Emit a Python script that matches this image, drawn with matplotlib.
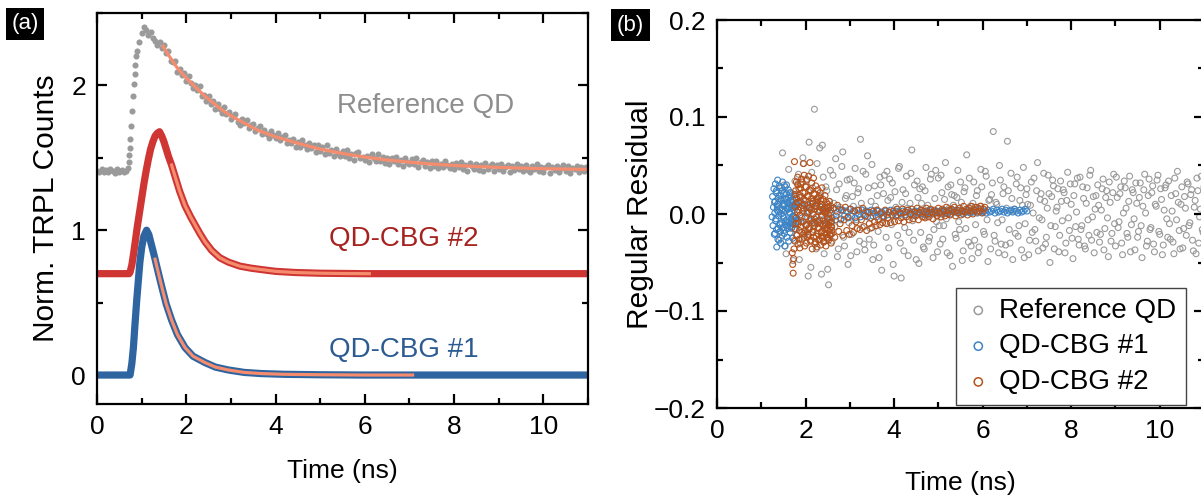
"""
TRPL 衰减曲线 + 拟合残差 (两栏图)
"""

import numpy as np
import matplotlib
matplotlib.use("Agg")
import matplotlib.pyplot as plt
from matplotlib.ticker import MultipleLocator

plt.rcParams["font.family"] = ["Liberation Sans", "DejaVu Sans"]
plt.rcParams["axes.unicode_minus"] = True

# ─────────────────────── 颜色 ───────────────────────
C_GRAY   = "#9a9a9a"
C_RED    = "#cf3533"
C_BLUE   = "#2e64a0"
C_FIT    = "#f58c6e"
C_RES_B  = "#3c84c6"
C_RES_O  = "#b4521c"
FS       = 19
FS_YLAB  = 21.5

# ─────────────────────── (a) 数据 ───────────────────────
# Reference QD (偏移 1.4)：基线 / 上升沿 / 衰减 (等间隔采样 0.05 ns)
ref_base_t0, ref_step = 0.00, 0.05
ref_base = [1.41, 1.40, 1.42, 1.405, 1.415, 1.40, 1.425, 1.41, 1.395, 1.42,
            1.405, 1.415, 1.40, 1.41]
ref_rise_t = [0.70, 0.71, 0.72, 0.73, 0.74, 0.76, 0.78, 0.80, 0.82, 0.84,
              0.86, 0.88, 0.90]
ref_rise = [1.43, 1.47, 1.52, 1.57, 1.63, 1.72, 1.82, 1.93, 2.01, 2.08,
            2.14, 2.20, 2.24]
ref_peak_t0 = 0.95
ref_decay = [
    2.30, 2.36, 2.40, 2.38, 2.35, 2.37, 2.33, 2.31, 2.28, 2.30, 2.26,
    2.28, 2.225, 2.24, 2.17, 2.165, 2.17, 2.09, 2.11, 2.07, 2.085,
    2.03, 2.065, 2.02, 1.98, 2.005, 1.965, 1.995, 1.925, 1.935, 1.89,
    1.93, 1.875, 1.89, 1.835, 1.875, 1.84, 1.81, 1.85, 1.80, 1.815,
    1.765, 1.792, 1.803, 1.75, 1.727, 1.77, 1.742, 1.76, 1.708, 1.73,
    1.733, 1.686, 1.705, 1.723, 1.662, 1.69, 1.664, 1.638, 1.682, 1.656,
    1.635, 1.67, 1.62, 1.645, 1.66, 1.60, 1.625, 1.605, 1.63, 1.575,
    1.61, 1.576, 1.622, 1.588, 1.559, 1.60, 1.566, 1.587, 1.538, 1.589,
    1.55, 1.577, 1.529, 1.591, 1.533, 1.555, 1.512, 1.564, 1.536, 1.513,
    1.55, 1.512, 1.555, 1.502, 1.525, 1.487, 1.53, 1.537, 1.50, 1.507,
    1.485, 1.513, 1.471, 1.524, 1.497, 1.48, 1.523, 1.481, 1.509, 1.462,
    1.50, 1.458, 1.502, 1.475, 1.508, 1.457, 1.485, 1.444, 1.497, 1.471,
    1.455, 1.489, 1.457, 1.496, 1.44, 1.469, 1.482, 1.441, 1.47, 1.428,
    1.477, 1.446, 1.48, 1.429, 1.458, 1.437, 1.481, 1.45, 1.429, 1.458,
    1.422, 1.461, 1.44, 1.469, 1.423, 1.453, 1.412, 1.461, 1.441, 1.425,
    1.46, 1.419, 1.448, 1.408, 1.462, 1.426, 1.441, 1.455, 1.41, 1.449,
    1.424, 1.458, 1.408, 1.437, 1.452, 1.401, 1.441, 1.415, 1.46, 1.424,
    1.444, 1.408, 1.453, 1.417, 1.402, 1.446, 1.426, 1.456, 1.41, 1.435,
    1.405, 1.434, 1.449, 1.394, 1.438, 1.413, 1.443, 1.402, 1.427, 1.447,
    1.407, 1.441, 1.396, 1.431, 1.421, 1.445, 1.40, 1.435, 1.41, 1.44,
    1.425,
]
ref_fit_t = [1.48, 1.6, 1.8, 2.0, 2.2, 2.4, 2.6, 2.8, 3.0, 3.3, 3.6, 4.0, 4.5,
             5.0, 5.5, 6.0, 6.5, 7.0, 7.5, 8.0, 8.5, 9.0, 9.5, 10.0, 10.5, 11.0]
ref_fit = [2.27, 2.21, 2.12, 2.05, 1.99, 1.93, 1.88, 1.83, 1.79, 1.74, 1.69,
           1.645, 1.60, 1.56, 1.53, 1.505, 1.485, 1.47, 1.457, 1.447, 1.44,
           1.434, 1.429, 1.425, 1.422, 1.42]

# QD-CBG #2 (偏移 0.7)
cbg2_t = [0.0, 0.2, 0.4, 0.6, 0.72, 0.74, 0.78, 0.82, 0.86, 0.90, 0.95, 1.00,
          1.05, 1.10, 1.15, 1.20, 1.25, 1.30, 1.35, 1.40, 1.45, 1.50, 1.55,
          1.60, 1.67, 1.75, 1.85, 1.97, 2.10, 2.20, 2.30, 2.42, 2.57, 2.75,
          2.94, 3.2, 3.45, 3.69, 4.0, 4.44, 5.0, 6.0, 7.0, 8.0, 9.0, 10.0, 11.0]
cbg2 = [0.70, 0.70, 0.70, 0.70, 0.70, 0.71, 0.76, 0.84, 0.93, 1.02, 1.12, 1.22,
        1.32, 1.41, 1.49, 1.56, 1.61, 1.65, 1.67, 1.68, 1.65, 1.61, 1.56,
        1.51, 1.45, 1.37, 1.27, 1.17, 1.09, 1.035, 0.98, 0.92, 0.86, 0.81,
        0.78, 0.752, 0.738, 0.728, 0.716, 0.708, 0.703, 0.700, 0.70, 0.70,
        0.70, 0.70, 0.70]
cbg2_fit_t = [1.67, 1.75, 1.85, 1.97, 2.10, 2.20, 2.30, 2.42, 2.57, 2.75, 2.94,
              3.2, 3.45, 3.69, 4.0, 4.44, 5.0, 5.5, 6.1]
cbg2_fit = [1.45, 1.37, 1.27, 1.17, 1.09, 1.035, 0.98, 0.92, 0.86, 0.81, 0.78,
            0.752, 0.738, 0.728, 0.716, 0.708, 0.703, 0.701, 0.70]

# QD-CBG #1 (无偏移)
cbg1_t = [0.0, 0.2, 0.4, 0.6, 0.74, 0.78, 0.815, 0.85, 0.89, 0.93, 0.96, 1.00,
          1.05, 1.11, 1.16, 1.21, 1.26, 1.30, 1.37, 1.45, 1.55, 1.67, 1.80,
          1.97, 2.15, 2.42, 2.65, 2.94, 3.3, 3.69, 4.2, 5.0, 6.0, 7.0, 8.0,
          9.0, 10.0, 11.0]
cbg1 = [0.0, 0.0, 0.0, 0.0, 0.0, 0.08, 0.19, 0.35, 0.52, 0.67, 0.78, 0.88,
        0.96, 1.00, 0.97, 0.91, 0.85, 0.80, 0.71, 0.61, 0.49, 0.38, 0.28,
        0.19, 0.13, 0.086, 0.055, 0.035, 0.018, 0.010, 0.005, 0.002, 0.0,
        0.0, 0.0, 0.0, 0.0, 0.0]
cbg1_fit_t = [1.30, 1.37, 1.45, 1.55, 1.67, 1.80, 1.97, 2.15, 2.42, 2.65, 2.94,
              3.3, 3.69, 4.2, 5.0, 6.0, 7.07]
cbg1_fit = [0.80, 0.71, 0.61, 0.49, 0.38, 0.28, 0.19, 0.13, 0.086, 0.055,
            0.035, 0.018, 0.010, 0.005, 0.002, 0.0, 0.0]

# ─────────────────────── (b) 残差 ───────────────────────
# Reference QD：两组交错采样 (0.04 ns 间隔，错开 0.02 ns)
res_ref_t0, res_ref_step = 1.40, 0.04
res_ref = [
    0.012, -0.025, 0.063, 0.030, -0.041, 0.005, 0.022, -0.015, -0.048, 0.034,
    -0.008, 0.041, -0.030, 0.018, 0.052, -0.019, 0.003, 0.074, -0.055, 0.027,
    0.108, -0.036, 0.015, 0.068, -0.062, 0.038, -0.012, 0.024, -0.073, 0.045,
    -0.028, 0.011, 0.057, -0.044, 0.031, -0.006, 0.064, -0.033, 0.019, -0.052,
    0.036, -0.021, 0.008, 0.047, -0.039, 0.026, 0.077, -0.014, -0.031, 0.041,
    0.060, -0.026, 0.013, -0.047, 0.029, 0.004, -0.018, 0.038, -0.058, 0.021,
    -0.009, 0.044, -0.035, 0.017, 0.032, -0.064, 0.007, -0.022, 0.049, -0.066,
    0.025, -0.014, 0.039, -0.043, 0.011, 0.066, -0.027, 0.003, 0.034, -0.051,
    -0.019, 0.028, -0.036, 0.048, 0.009, -0.024, 0.041, -0.045, 0.016, -0.008,
    0.037, -0.031, 0.022, -0.012, 0.053, -0.040, 0.006, 0.030, -0.054, 0.019,
    -0.025, 0.045, -0.016, 0.012, -0.038, 0.027, 0.061, -0.029, 0.008, -0.046,
    0.033, -0.011, 0.024, -0.034, 0.046, 0.002, -0.021, 0.039, -0.049, 0.015,
    0.020, 0.085, -0.028, 0.010, -0.040, 0.035, -0.006, 0.028, -0.032, 0.075,
    -0.016, 0.042, -0.047, 0.005, 0.031, -0.023, 0.014, -0.037, 0.048, -0.010,
    0.026, -0.042, 0.009, -0.019, 0.037, -0.028, 0.053, -0.004, 0.021, -0.035,
    0.013, -0.024, 0.040, -0.050, 0.018, 0.029, -0.013, 0.007, -0.039, 0.034,
    -0.007, 0.022, -0.030, 0.043, -0.017, 0.010, -0.046, 0.031, 0.002, -0.026,
    0.038, -0.012, 0.016, -0.036, 0.027, -0.022, 0.045, -0.003, -0.040, 0.019,
    0.030, -0.029, 0.004, 0.036, -0.015, 0.024, -0.044, 0.012, -0.020, 0.041,
    -0.033, 0.017, -0.008, 0.028, -0.042, 0.034, 0.006, -0.024, 0.039, -0.011,
    0.022, -0.037, 0.011, -0.018, 0.032, -0.045, 0.025, 0.001, -0.028, 0.036,
    -0.014, 0.029, -0.039, 0.008, 0.040, -0.021, 0.015, -0.032, 0.027, -0.005,
    0.034, -0.026, 0.003, -0.041, 0.021, 0.044, -0.017, 0.010, -0.035, 0.018,
    -0.022, 0.031, -0.009, 0.025, -0.038, 0.014, 0.037, -0.030, 0.005, -0.016,
    0.028, -0.019, 0.012, -0.034, 0.022, 0.000, -0.027, 0.035, -0.008, 0.016,
]
res_ref2_t0 = 1.42
res_ref2 = [
    -0.018, 0.027, 0.004, -0.033, 0.015, 0.046, -0.010, 0.021, -0.027, 0.009,
    0.031, -0.047, 0.012, 0.058, -0.022, 0.036, -0.064, 0.006, 0.043, -0.016,
    -0.029, 0.052, -0.008, 0.019, 0.071, -0.041, 0.028, -0.057, 0.013, -0.021,
    0.040, -0.013, 0.025, -0.036, 0.007, 0.049, -0.024, 0.016, 0.035, -0.009,
    -0.043, 0.018, 0.032, -0.006, 0.022, -0.028, 0.011, 0.044, -0.037, 0.003,
    0.027, -0.015, 0.051, -0.032, 0.008, 0.019, -0.045, 0.030, -0.004, 0.040,
    -0.024, 0.014, 0.036, -0.011, -0.052, 0.023, 0.005, 0.047, -0.030, 0.012,
    -0.038, 0.021, 0.006, -0.019, 0.042, -0.007, 0.030, -0.047, 0.017, 0.026,
    0.011, -0.034, 0.024, -0.003, -0.028, 0.036, 0.002, -0.016, 0.045, -0.039,
    -0.012, 0.040, -0.026, 0.015, -0.005, 0.028, -0.043, 0.020, 0.009, -0.021,
    0.017, -0.008, 0.033, -0.048, 0.023, -0.015, 0.004, 0.037, -0.033, 0.011,
    -0.027, 0.019, -0.040, 0.008, 0.028, -0.018, 0.044, -0.006, 0.014, -0.036,
    0.032, -0.022, 0.012, -0.009, 0.050, -0.031, 0.021, -0.042, 0.006, 0.024,
    -0.030, 0.016, 0.003, -0.020, 0.038, -0.012, 0.027, 0.009, -0.045, 0.020,
    0.010, -0.027, 0.033, 0.001, -0.016, 0.024, -0.038, 0.015, -0.006, 0.042,
    -0.031, 0.006, 0.021, -0.012, 0.035, -0.036, 0.003, 0.026, -0.022, 0.013,
    0.025, -0.040, 0.014, -0.004, 0.031, -0.025, 0.019, -0.013, 0.037, -0.032,
    -0.016, 0.028, -0.033, 0.011, -0.006, 0.040, -0.027, 0.018, 0.005, -0.019,
    0.009, -0.021, 0.026, -0.037, 0.017, -0.004, 0.033, -0.028, 0.022, -0.010,
    0.038, -0.014, 0.021, -0.030, 0.001, 0.027, -0.020, 0.013, -0.039, 0.025,
    -0.005, 0.032, -0.024, 0.017, -0.012, 0.008, 0.041, -0.033, 0.019, -0.016,
    0.022, -0.031, 0.010, 0.035, -0.018, 0.026, -0.042, 0.004, 0.030, -0.024,
    -0.010, 0.019, -0.029, 0.037, -0.006, 0.012, -0.036, 0.028, -0.015, 0.006,
    0.033, -0.012, 0.020, -0.027, 0.007, -0.041, 0.024, -0.003, 0.039, -0.019,
    -0.028, 0.015, 0.030, -0.014, 0.004, -0.032, 0.021, 0.009, -0.020, 0.027,
]

# QD-CBG #1：前段 0.01 ns 采样 (两组)，后段 0.04 ns
res_c1a_t0, res_c1a_step = 1.30, 0.01
res_c1a = [
    0.012, -0.020, 0.031, -0.005, 0.024, -0.034, 0.008, 0.035, -0.015, 0.002,
    -0.027, 0.019, 0.027, -0.010, -0.030, 0.015, 0.004, -0.022, 0.033, -0.002,
    0.021, -0.017, 0.010, -0.033, 0.028, -0.008, 0.016, 0.030, -0.024, 0.006,
    -0.012, 0.025, -0.028, 0.013, 0.001, -0.019, 0.022, -0.006, 0.018, -0.014,
    0.009, -0.025, 0.014, -0.003, 0.020, -0.011, 0.007, -0.016, 0.011, -0.004,
]
res_c1a2_t0 = 1.245
res_c1a2 = [
    -0.003, 0.018, -0.012, 0.007, 0.026, -0.021, 0.001, 0.013, -0.007, 0.022,
    -0.016, 0.004, 0.010, -0.026, 0.016, -0.002, 0.029, -0.011, 0.006, -0.018,
    0.019, 0.000, -0.009, 0.024, -0.014, 0.011, -0.004, 0.008, -0.020, 0.015,
    0.003, -0.011, 0.021, -0.006, 0.012, -0.015, 0.005, 0.017, -0.008, 0.002,
    -0.013, 0.009, 0.014, -0.005, 0.006, -0.010, 0.012, -0.002, 0.007, -0.007,
    0.004, -0.003,
]
res_c1b_t0, res_c1b_step = 1.80, 0.04
res_c1b = [
    0.010, -0.008, 0.013, -0.004, 0.006, -0.011, 0.009, 0.002, -0.007, 0.011,
    -0.005, 0.008, -0.009, 0.004, 0.007, -0.006, 0.003, -0.008, 0.006, 0.001,
    -0.004, 0.006, -0.006, 0.002, 0.005, -0.005, 0.004, -0.002, 0.003, -0.004,
    0.005, -0.002, 0.003, -0.004, 0.004, 0.000, -0.003, 0.004, -0.001, 0.003,
    -0.003, 0.002, 0.004, -0.002, 0.001, -0.003, 0.003, 0.000, 0.002, -0.002,
    0.003, -0.001, 0.002, 0.004, -0.002, 0.001, 0.003, -0.001, 0.002, 0.000,
    0.003, -0.001, 0.002, 0.004, 0.000, 0.002, -0.001, 0.003, 0.001, 0.002,
    0.004, 0.000, 0.002, -0.001, 0.003, 0.001, 0.004, 0.000, 0.002, 0.003,
    0.001, 0.003, 0.000, 0.004, 0.002, 0.001, 0.003, 0.000, 0.004, 0.002,
    0.003, 0.001, 0.004, 0.002, 0.000, 0.003, 0.002, 0.004, 0.001, 0.003,
    0.002, 0.004, 0.001, 0.003, 0.005, 0.002, 0.003, 0.001, 0.004, 0.002,
    0.003, 0.005, 0.001, 0.004, 0.002, 0.003, 0.005, 0.002, 0.004, 0.001,
    0.003, 0.004, 0.002, 0.005, 0.003, 0.001, 0.004, 0.002, 0.003, 0.005,
    0.003,
]

# QD-CBG #2：前段 0.01 ns (两组)，后段 0.03 ns
res_c2a_t0, res_c2a_step = 1.70, 0.01
res_c2a = [
    -0.040, -0.052, -0.061, -0.046, -0.036, 0.054, -0.028, 0.020, -0.010, 0.033,
    -0.022, 0.012, 0.038, -0.031, 0.004, 0.026, -0.017, -0.035, 0.017, 0.031,
    -0.008, 0.036, -0.026, 0.009, 0.022, 0.052, -0.020, 0.040, -0.033, 0.014,
    0.028, -0.012, -0.030, 0.035, 0.001, -0.024, 0.019, 0.039, -0.016, 0.006,
    0.053, -0.028, 0.024, -0.005, 0.032, -0.036, 0.013, -0.019, 0.037, -0.009,
    0.021, -0.031, 0.008, 0.029, -0.023, 0.016, -0.034, 0.003, 0.025, -0.014,
    -0.027, 0.018, -0.006, 0.022, -0.032, 0.010, -0.018, 0.027, -0.025, 0.005,
    0.015, -0.029, 0.002, -0.020, 0.019, -0.011, -0.033, 0.012, -0.024, 0.007,
    -0.016, 0.010, -0.027, -0.004, 0.013, -0.021, -0.009, 0.008, -0.030, -0.013,
]
res_c2a2_t0 = 1.755
res_c2a2 = [
    0.008, -0.015, 0.024, -0.004, 0.016, -0.022, 0.002, 0.030, -0.010, 0.012,
    -0.026, 0.019, -0.001, 0.027, -0.013, 0.006, -0.019, 0.033, 0.003, -0.008,
    0.015, -0.024, 0.010, 0.022, -0.017, -0.003, 0.028, -0.011, 0.001, 0.018,
    -0.021, 0.007, -0.014, 0.025, -0.006, 0.011, -0.027, 0.004, 0.016, -0.009,
    -0.018, 0.013, 0.000, -0.024, 0.020, -0.012, 0.005, -0.029, 0.009, -0.003,
    0.012, -0.020, -0.007, 0.017, -0.015, 0.002, -0.026, 0.008, -0.010, 0.014,
    -0.019, -0.002, 0.010, -0.023, 0.004, -0.012, -0.028, 0.006, -0.016, 0.001,
    -0.009, -0.021, 0.003, -0.014, -0.005, -0.025, 0.000, -0.011, -0.018, -0.006,
    -0.022, 0.004, -0.013, -0.008, -0.017,
]
res_c2b_t0, res_c2b_step = 2.60, 0.03
res_c2b = [
    -0.020, 0.006, -0.024, -0.002, 0.009, -0.018, -0.010, 0.004, -0.022, -0.006,
    0.007, -0.017, -0.003, -0.021, 0.005, -0.012, -0.019, 0.003, -0.008, -0.015,
    0.004, -0.016, -0.006, 0.006, -0.013, -0.002, -0.017, 0.002, -0.010, -0.004,
    -0.014, 0.003, -0.008, -0.012, 0.004, -0.006, -0.011, 0.001, -0.009, -0.003,
    0.004, -0.010, -0.004, 0.002, -0.009, -0.001, 0.003, -0.008, -0.002, 0.005,
    -0.007, 0.001, -0.004, 0.005, -0.008, 0.002, -0.003, 0.004, -0.006, 0.000,
    0.005, -0.005, 0.002, -0.002, 0.006, -0.006, 0.001, 0.004, -0.003, 0.003,
    -0.004, 0.006, 0.000, -0.003, 0.005, 0.002, -0.005, 0.004, 0.001, -0.002,
    0.006, 0.001, -0.003, 0.005, 0.003, -0.002, 0.007, 0.000, 0.004, -0.001,
    0.005, 0.002, 0.007, -0.002, 0.004, 0.001, 0.006, -0.001, 0.003, 0.008,
    0.002, 0.005, -0.001, 0.006, 0.003, 0.008, 0.000, 0.004, 0.007, 0.002,
    0.006, 0.003, 0.008, 0.001, 0.005, 0.007,
]


def grid(t0, step, vals):
    """等间隔采样的时间轴"""
    return t0 + step * np.arange(len(vals))


def style_axis(ax):
    for s in ax.spines.values():
        s.set_linewidth(1.6)
    ax.tick_params(which="both", direction="in", top=True, right=True,
                   labelsize=FS, width=1.6, pad=8)
    ax.tick_params(which="major", length=7)
    ax.tick_params(which="minor", length=4)


fig = plt.figure(figsize=(12.01, 5.0), dpi=100)

# ─────────────────────── (a) ───────────────────────
ax1 = fig.add_axes([0.0808, 0.192, 0.4088, 0.782])
dot = dict(ls="none", marker="o", ms=4.4, color=C_GRAY, mec="none")
ax1.plot(grid(ref_base_t0, ref_step, ref_base), ref_base, **dot)
ax1.plot(ref_rise_t, ref_rise, **dot)
ax1.plot(grid(ref_peak_t0, ref_step, ref_decay), ref_decay, **dot)
ax1.plot(ref_fit_t, ref_fit, color=C_FIT, lw=2.3)

ax1.plot(cbg2_t, cbg2, color=C_RED, lw=5.2, solid_joinstyle="round")
ax1.plot(cbg2_fit_t, cbg2_fit, color=C_FIT, lw=2.3)
ax1.plot(cbg1_t, cbg1, color=C_BLUE, lw=5.2, solid_joinstyle="round")
ax1.plot(cbg1_fit_t, cbg1_fit, color=C_FIT, lw=2.3)

ax1.text(7.35, 1.86, "Reference QD", color="#8e8e8e", fontsize=20,
         ha="center", va="center")
ax1.text(6.88, 0.94, "QD-CBG #2", color="#a5221e", fontsize=20,
         ha="center", va="center")
ax1.text(6.88, 0.17, "QD-CBG #1", color="#2c5b92", fontsize=20,
         ha="center", va="center")

ax1.set_xlim(0, 11)
ax1.set_ylim(-0.2, 2.5)
ax1.xaxis.set_major_locator(MultipleLocator(2))
ax1.xaxis.set_minor_locator(MultipleLocator(1))
ax1.yaxis.set_major_locator(MultipleLocator(1))
ax1.yaxis.set_minor_locator(MultipleLocator(0.5))
ax1.set_xlabel("Time (ns)", fontsize=FS, labelpad=14)
ax1.set_ylabel("Norm. TRPL Counts", fontsize=FS_YLAB, labelpad=8)
style_axis(ax1)

# ─────────────────────── (b) ───────────────────────
ax2 = fig.add_axes([0.597, 0.184, 0.4055, 0.776])
kw = dict(s=18, facecolors="none", linewidths=0.8)
ref_t = np.concatenate([grid(res_ref_t0, res_ref_step, res_ref),
                        grid(res_ref2_t0, res_ref_step, res_ref2)])
c1_t = np.concatenate([grid(res_c1a_t0, res_c1a_step, res_c1a),
                       grid(res_c1a2_t0, res_c1a_step, res_c1a2),
                       grid(res_c1b_t0, res_c1b_step, res_c1b)])
c2_t = np.concatenate([grid(res_c2a_t0, res_c2a_step, res_c2a),
                       grid(res_c2a2_t0, res_c2a_step, res_c2a2),
                       grid(res_c2b_t0, res_c2b_step, res_c2b)])
ax2.scatter(ref_t, res_ref + res_ref2, edgecolors=C_GRAY,
            label="Reference QD", **kw)
ax2.scatter(c1_t, res_c1a + res_c1a2 + res_c1b, edgecolors=C_RES_B,
            label="QD-CBG #1", **kw)
ax2.scatter(c2_t, res_c2a + res_c2a2 + res_c2b, edgecolors=C_RES_O,
            label="QD-CBG #2", **kw)

ax2.set_xlim(0, 11)
ax2.set_ylim(-0.2, 0.2)
ax2.xaxis.set_major_locator(MultipleLocator(2))
ax2.xaxis.set_minor_locator(MultipleLocator(1))
ax2.yaxis.set_major_locator(MultipleLocator(0.1))
ax2.yaxis.set_minor_locator(MultipleLocator(0.05))
ax2.set_xlabel("Time (ns)", fontsize=FS, labelpad=20)
ax2.set_ylabel("Regular Residual", fontsize=FS_YLAB, labelpad=0)
style_axis(ax2)

leg = ax2.legend(loc="lower right", bbox_to_anchor=(0.963, 0.008),
                 borderaxespad=0, fontsize=20, fancybox=False, framealpha=1,
                 edgecolor="#444444", markerscale=1.4, handletextpad=0.3,
                 handlelength=0.9, labelspacing=0.35, borderpad=0.35)
leg.get_frame().set_linewidth(1.0)
for h in leg.legend_handles:
    h.set_linewidth(1.1)

# 面板标号
fig.text(0.021, 0.952, "(a)", color="white", fontsize=16, ha="center",
         va="center", bbox=dict(facecolor="black", edgecolor="none", pad=4))
fig.text(0.525, 0.950, "(b)", color="white", fontsize=16, ha="center",
         va="center", bbox=dict(facecolor="black", edgecolor="none", pad=4))

fig.savefig("out.png", dpi=100)
